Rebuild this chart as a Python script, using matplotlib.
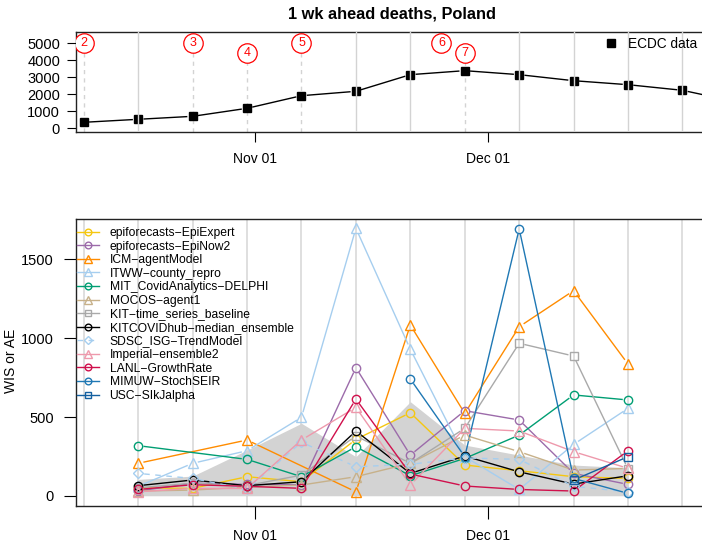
import numpy as np
import matplotlib
matplotlib.use('Agg')
import matplotlib.pyplot as plt
import matplotlib.dates as mdates
from matplotlib.lines import Line2D
import datetime as dt

plt.rcParams['font.family'] = ['Liberation Sans', 'DejaVu Sans']

nan = np.nan

# ECDC weekly deaths (Saturdays)
ecdc_dates = [dt.date(2020, 10, 10) + dt.timedelta(days=7 * i) for i in range(13)]
ecdc_deaths = [353, 530, 705, 1176, 1918, 2176, 3155, 3390, 3155, 2800, 2565, 2235, 1550]

# events marked in the top panel
event_dates = [dt.date(2020, 10, 10), dt.date(2020, 10, 24), dt.date(2020, 10, 31),
               dt.date(2020, 11, 7), dt.date(2020, 11, 25), dt.date(2020, 11, 28)]
event_labels = ['2', '3', '4', '5', '6', '7']
event_levels = [5000, 5000, 4450, 5000, 5000, 4450]
event_lines = [True, True, True, True, False, True]

# scores, 1 wk ahead, forecasts dated Oct 17 .. Dec 19
score_dates = [dt.date(2020, 10, 17) + dt.timedelta(days=7 * i) for i in range(10)]
shade_upper = [104, 125, 290, 460, 248, 597, 322, 258, 195, 178]

models = ['epiforecasts-EpiExpert', 'epiforecasts-EpiNow2', 'ICM-agentModel',
          'ITWW-county_repro', 'MIT_CovidAnalytics-DELPHI', 'MOCOS-agent1',
          'KIT-time_series_baseline', 'KITCOVIDhub-median_ensemble',
          'SDSC_ISG-TrendModel', 'Imperial-ensemble2', 'LANL-GrowthRate',
          'MIMUW-StochSEIR', 'USC-SIkJalpha']
epiexpert = [50, 47, 121, 89, 358, 527, 195, 159, 121, 110]
epinow2 = [30, 80, 72, 70, 813, 258, 540, 481, 142, 72]
icm = [206, nan, 354, nan, 25, 1084, 523, 1073, 1302, 836]
itww = [60, 206, 286, 498, 1698, 930, 248, 40, 326, 555]
mit = [318, nan, 231, 121, 311, 127, 237, 385, 640, 608]
mocos = [30, 36, 55, 68, 121, 206, 385, 280, 163, 174]
kit_baseline = [50, 80, 65, 131, 380, 206, 428, 968, 887, 170]
hub_ensemble = [64, 100, 64, 89, 411, 142, 252, 152, 74, 127]
sdsc = [142, 110, 40, 340, 184, 200, 240, 231, 60, 25]
imperial = [25, 47, 47, 354, 561, 68, 428, 411, 280, 174]
lanl = [40, 70, 60, 47, 614, 138, 62, 40, 30, 286]
mimuw = [nan, nan, nan, nan, nan, 741, 248, 1694, 110, 15]
usc = [nan, nan, nan, nan, nan, nan, nan, nan, 100, 248]
scores = [epiexpert, epinow2, icm, itww, mit, mocos, kit_baseline, hub_ensemble,
          sdsc, imperial, lanl, mimuw, usc]

colors = ['#F5C710', '#9C6BAA', '#FF8C00', '#A6CEEF', '#009E73', '#C7B18A',
          '#A9A9A9', '#000000', '#A6CEEF', '#EE99AC', '#D0104C', '#1F78B4', '#1460A0']
markers = ['o', 'o', '^', '^', 'o', '^', 's', 'o', 'D', '^', 'o', 'o', 's']
styles = ['-'] * 8 + [(0, (4, 4))] + ['-'] * 4
msizes = {'o': 6, '^': 7, 's': 6, 'D': 5.5}


def gapped(ax, x, y, gap=5, **kw):
    # R type="b": lines stop short of the points
    pts = ax.transData.transform(np.column_stack([x, y]))
    inv = ax.transData.inverted()
    for p, q in zip(pts[:-1], pts[1:]):
        d = q - p
        L = np.hypot(*d)
        if L <= 2 * gap:
            continue
        u = d / L
        seg = inv.transform(np.array([p + u * gap, q - u * gap]))
        ax.plot(seg[:, 0], seg[:, 1], **kw)


W, H = 702, 544
fig = plt.figure(figsize=(W / 100, H / 100), dpi=100)
ax1 = fig.add_axes([76 / W, 1 - 132.3 / H, 664 / W, 100.6 / H])
ax2 = fig.add_axes([76 / W, 1 - 506 / H, 664 / W, 287 / H])

x_lo = mdates.date2num(dt.date(2020, 11, 1)) - 23.0
x_hi = mdates.date2num(dt.date(2020, 11, 1)) + 62.4
grid_dates = [mdates.date2num(dt.date(2020, 10, 10) + dt.timedelta(days=7 * i)) for i in range(13)]
xt = [mdates.date2num(dt.date(2020, 11, 1)), mdates.date2num(dt.date(2020, 12, 1))]

for ax in (ax1, ax2):
    ax.set_xlim(x_lo, x_hi)
    ax.set_xticks(xt)
    ax.set_xticklabels(['Nov 01', 'Dec 01'])
    for s in ax.spines.values():
        s.set_linewidth(1.0)
        s.set_color('#222222')

# ---- top panel
ax1.set_ylim(-235, 5682)
ax1.set_yticks([0, 1000, 2000, 3000, 4000, 5000])
ax1.tick_params(axis='y', length=6.5, pad=5, labelsize=10.5)
ax1.tick_params(axis='x', length=7, pad=7.5, labelsize=10)
ev_num = [mdates.date2num(d) for d in event_dates]
for g in grid_dates:
    if g not in ev_num:
        ax1.axvline(g, color='#D3D3D3', lw=1, zorder=3)
for d, lab, lvl, ln in zip(ev_num, event_labels, event_levels, event_lines):
    if ln:
        ax1.vlines(d, -235, lvl - 450, colors='#D3D3D3', lw=1, linestyles=(0, (3, 3)), zorder=1)
    ax1.plot(d, lvl, marker='o', ms=14, mfc='white', mec='red', mew=0.9, ls='none', zorder=4)
    ax1.text(d, lvl, lab, color='red', ha='center', va='center', fontsize=9, zorder=5)

ex = [mdates.date2num(d) for d in ecdc_dates]
gapped(ax1, ex, ecdc_deaths, gap=6, color='black', lw=1, zorder=2)
ax1.plot(ex, ecdc_deaths, 's', color='black', ms=6, zorder=2)
ax1.legend([Line2D([], [], marker='s', color='black', ls='none', ms=6)], ['ECDC data'],
           loc='upper left', bbox_to_anchor=(597 / W, 1 - 37 / H), bbox_transform=fig.transFigure,
           frameon=False, fontsize=9.8, handletextpad=0.3, borderpad=0, borderaxespad=0)
fig.text(392 / W, 1 - 14 / H, '1 wk ahead deaths, Poland', ha='center', va='center',
         fontsize=11.8, fontweight='bold')

# ---- bottom panel
ax2.set_ylim(-65, 1757)
ax2.set_yticks([0, 500, 1000, 1500])
ax2.tick_params(axis='y', length=9, pad=7, labelsize=10.5)
ax2.tick_params(axis='x', length=9, pad=7.5, labelsize=10)
fig.text(11 / W, 1 - 361 / H, 'WIS or AE', rotation=90, ha='center', va='center', fontsize=10)
for g in grid_dates:
    ax2.axvline(g, color='#DCDCDC', lw=1.3, zorder=0)

sx = np.array([mdates.date2num(d) for d in score_dates])
ax2.fill_between(sx, 0, shade_upper, color='#D3D3D3', lw=0, zorder=1)

handles = []
for name, vals, c, m, ls in zip(models, scores, colors, markers, styles):
    v = np.array(vals, dtype=float)
    ok = ~np.isnan(v)
    gapped(ax2, sx[ok], v[ok], gap=6, color=c, lw=1, ls=ls, zorder=2)
    ax2.plot(sx[ok], v[ok], ls='none', marker=m, ms=msizes[m], mfc='none', mec=c, mew=1, zorder=3)
    handles.append(Line2D([], [], color=c, ls=ls, lw=1, marker=m, ms=msizes[m] * 0.8,
                          mfc='none', mec=c))

ax2.legend(handles, [n.replace('-', '\u2212') for n in models], loc='upper left',
           bbox_to_anchor=(77 / W, 1 - 227 / H), bbox_transform=fig.transFigure,
           frameon=False, fontsize=8.7, handlelength=1.8, handletextpad=0.9,
           labelspacing=0.13, borderpad=0, borderaxespad=0)

fig.savefig('out.png', dpi=100)
